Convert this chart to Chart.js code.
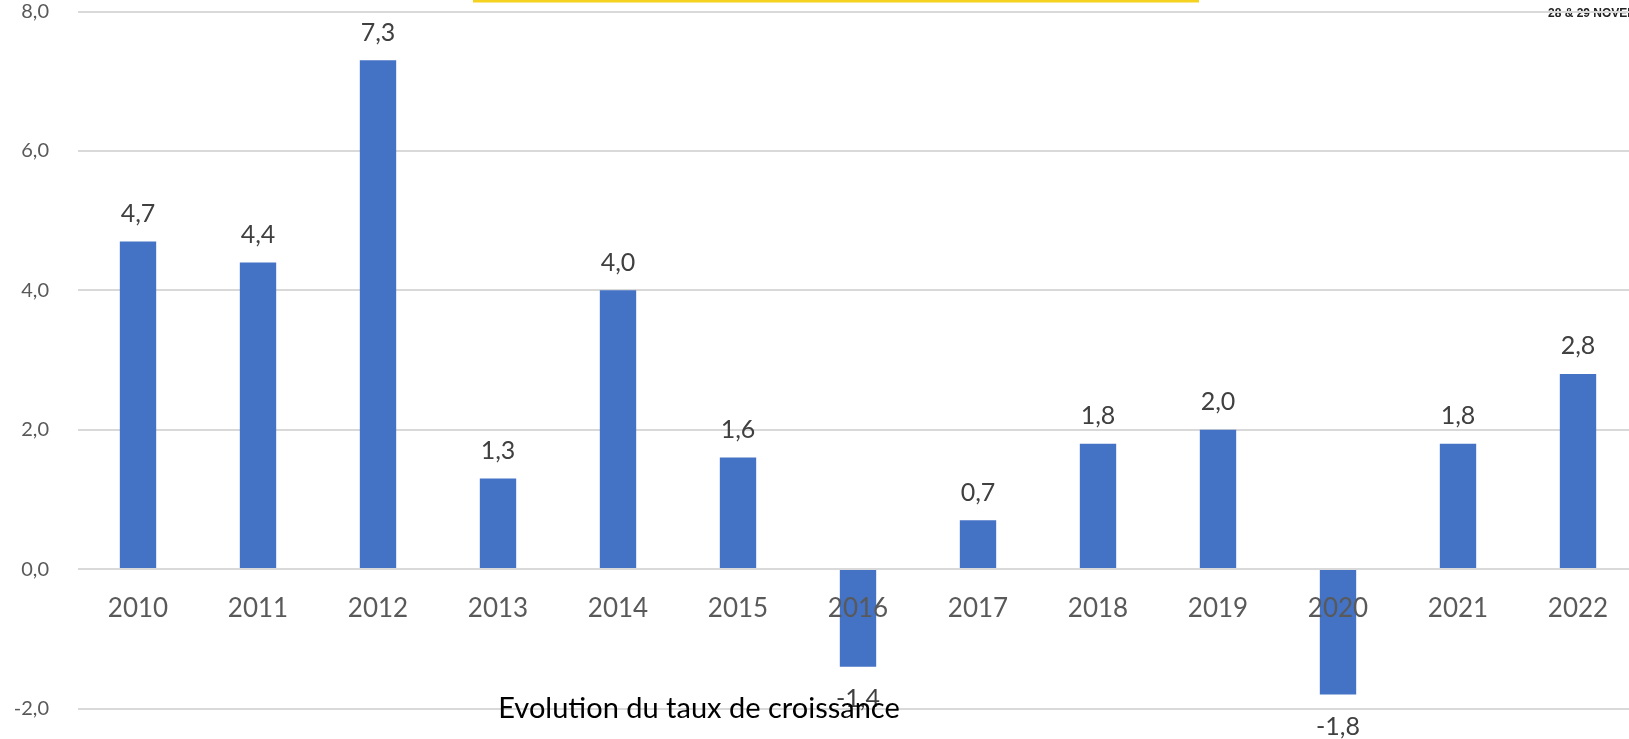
<!DOCTYPE html>
<html>
<head>
<meta charset="utf-8">
<script src="https://cdn.jsdelivr.net/npm/chart.js@4.4.0/dist/chart.umd.min.js"></script>
<style>
html,body{margin:0;padding:0;overflow:hidden;background:#fff;width:1629px;height:739px}
canvas{position:absolute;left:0;top:0}
</style>
</head>
<body>
<canvas id="c" width="1640" height="739"></canvas>
<script>
const categories = ['2010','2011','2012','2013','2014','2015','2016','2017','2018','2019','2020','2021','2022'];
const growthRates = [4.7, 4.4, 7.3, 1.3, 4.0, 1.6, -1.4, 0.7, 1.8, 2.0, -1.8, 1.8, 2.8];
const yMin = -2;
const yMax = 8;
const yStep = 2;
const chartTitle = 'Evolution du taux de croissance';
const cornerText = '28 & 29 NOVEMBRE';

const fmt = v => Number(v).toFixed(1).replace('.', ',');
const FONT = 'Lato, Carlito, "Noto Sans", sans-serif';

const overlay = {
  id: 'overlay',
  beforeDraw(chart) {
    const ctx = chart.ctx;
    ctx.save();
    ctx.fillStyle = '#ffffff';
    ctx.fillRect(0, 0, chart.width, chart.height);
    ctx.fillStyle = '#F5D21F';
    ctx.fillRect(473, 0, 726, 2.5);
    ctx.fillStyle = '#222222';
    ctx.font = 'bold 12px "Liberation Sans", Arial, sans-serif';
    ctx.textAlign = 'left';
    ctx.textBaseline = 'alphabetic';
    ctx.fillText(cornerText, 1548, 17);
    ctx.restore();
  },
  afterDatasetsDraw(chart) {
    const ctx = chart.ctx;
    const meta = chart.getDatasetMeta(0);
    ctx.save();
    ctx.fillStyle = '#404040';
    ctx.font = '25px ' + FONT;
    ctx.textAlign = 'center';
    ctx.textBaseline = 'alphabetic';
    meta.data.forEach((el, i) => {
      const v = growthRates[i];
      if (v >= 0) {
        ctx.fillText(fmt(v), el.x, el.y - 19.5);
      } else {
        ctx.fillText(fmt(v), el.x, el.y + 40);
      }
    });
    ctx.restore();
  },
  afterDraw(chart) {
    const ctx = chart.ctx;
    ctx.save();
    ctx.fillStyle = '#000000';
    ctx.font = '29px ' + FONT;
    ctx.textAlign = 'center';
    ctx.textBaseline = 'alphabetic';
    ctx.fillText(chartTitle, 699, 718);
    ctx.restore();
  }
};

new Chart(document.getElementById('c'), {
  type: 'bar',
  data: {
    labels: categories,
    datasets: [{
      data: growthRates,
      backgroundColor: '#4472C4',
      borderWidth: 0,
      barPercentage: 0.303,
      categoryPercentage: 1.0
    }]
  },
  options: {
    responsive: false,
    animation: false,
    devicePixelRatio: 1,
    layout: { padding: { left: 0, right: 2, top: 11.5, bottom: 30.5 } },
    plugins: {
      legend: { display: false },
      tooltip: { enabled: false },
      title: { display: false }
    },
    scales: {
      x: {
        position: { y: 0 },
        grid: { display: false, drawTicks: false },
        border: { display: false },
        ticks: {
          z: 1,
          color: '#595959',
          font: { family: FONT, size: 26 },
          padding: 24,
          maxRotation: 0,
          autoSkip: false
        },
        afterFit(scale) {
          scale.height = 0;
          scale.paddingTop = 0;
          scale.paddingBottom = 0;
        }
      },
      y: {
        min: yMin,
        max: yMax,
        grid: { color: '#d9d9d9', lineWidth: 2, drawTicks: false },
        border: { display: false },
        ticks: {
          stepSize: yStep,
          color: '#595959',
          font: { family: FONT, size: 20 },
          padding: 29,
          callback: v => fmt(v)
        },
        afterFit(scale) {
          scale.width = 78;
          scale.paddingTop = 0;
          scale.paddingBottom = 0;
        }
      }
    }
  },
  plugins: [overlay]
});
</script>
</body>
</html>
